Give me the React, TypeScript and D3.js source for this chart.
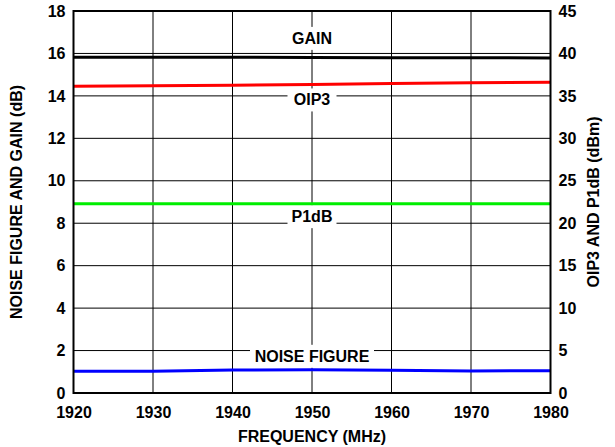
import React, { useEffect, useRef } from "react";
import * as d3 from "d3";

const WIDTH = 615;
const HEIGHT = 447;
const MARGIN = { top: 11, right: 64.5, bottom: 54, left: 73.5 };
const FONT = "'Liberation Sans', Arial, Helvetica, sans-serif";

// frequency points (MHz)
const freq = [1920, 1930, 1940, 1950, 1960, 1970, 1980];
// left axis (dB)
const gain = [15.82, 15.82, 15.82, 15.81, 15.8, 15.8, 15.79];
const noiseFigure = [1.02, 1.03, 1.08, 1.1, 1.07, 1.04, 1.05];
// right axis (dBm)
const oip3 = [36.15, 36.2, 36.25, 36.35, 36.45, 36.55, 36.62];
const p1db = [22.3, 22.3, 22.3, 22.3, 22.3, 22.3, 22.3];

const xTicks = [1920, 1930, 1940, 1950, 1960, 1970, 1980];
const leftTicks = [0, 2, 4, 6, 8, 10, 12, 14, 16, 18];
const rightTicks = [0, 5, 10, 15, 20, 25, 30, 35, 40, 45];

// in-plot labels: text, frequency for centre, left-axis value for baseline
const labels = [
  { text: "GAIN", x: 1950, y: 16.45 },
  { text: "OIP3", x: 1950, y: 13.55 },
  { text: "P1dB", x: 1950, y: 8.05 },
  { text: "NOISE FIGURE", x: 1950, y: 1.47 },
];

export default function App() {
  const axesRef = useRef<SVGGElement>(null);
  const boundsWidth = WIDTH - MARGIN.left - MARGIN.right;
  const boundsHeight = HEIGHT - MARGIN.top - MARGIN.bottom;

  const xScale = d3.scaleLinear().domain([1920, 1980]).range([0, boundsWidth]);
  const yLeft = d3.scaleLinear().domain([0, 18]).range([boundsHeight, 0]);
  const yRight = d3.scaleLinear().domain([0, 45]).range([boundsHeight, 0]);

  useEffect(() => {
    const g = d3.select(axesRef.current);
    g.selectAll("*").remove();

    const xAxis = d3.axisBottom(xScale).tickValues(xTicks).tickSize(0).tickPadding(14).tickFormat(d3.format("d"));
    g.append("g").attr("transform", `translate(0,${boundsHeight})`).call(xAxis);

    const lAxis = d3.axisLeft(yLeft).tickValues(leftTicks).tickSize(0).tickPadding(8);
    g.append("g").call(lAxis);

    const rAxis = d3.axisRight(yRight).tickValues(rightTicks).tickSize(0).tickPadding(8);
    g.append("g").attr("transform", `translate(${boundsWidth},0)`).call(rAxis);

    g.selectAll(".domain").remove();
    g.selectAll("text")
      .attr("font-family", FONT)
      .attr("font-size", 16)
      .attr("font-weight", "bold")
      .attr("fill", "#000");
  }, []);

  const lineLeft = d3
    .line<number>()
    .x((_, i) => xScale(freq[i]))
    .y((d) => yLeft(d));
  const lineRight = d3
    .line<number>()
    .x((_, i) => xScale(freq[i]))
    .y((d) => yRight(d));

  return (
    <svg width={WIDTH} height={HEIGHT} style={{ position: "absolute", left: 0, top: 0, background: "#fff" }}>
      <g transform={`translate(${MARGIN.left},${MARGIN.top})`}>
        {/* grid */}
        {xTicks.map((t) => (
          <line key={"vx" + t} x1={xScale(t)} x2={xScale(t)} y1={0} y2={boundsHeight} stroke="#000" strokeWidth={1} />
        ))}
        {leftTicks.map((t) => (
          <line key={"hy" + t} x1={0} x2={boundsWidth} y1={yLeft(t)} y2={yLeft(t)} stroke="#000" strokeWidth={1} />
        ))}

        {/* label backgrounds and labels */}
        {labels.map((l) => {
          const w = l.text === "NOISE FIGURE" ? 124 : l.text === "GAIN" ? 46 : 49;
          const by = yLeft(l.y);
          return (
            <g key={l.text}>
              <rect x={xScale(l.x) - w / 2} y={by - 17} width={w} height={23} fill="#fff" />
              <text
                x={xScale(l.x)}
                y={by}
                textAnchor="middle"
                fontFamily={FONT}
                fontSize={16}
                fontWeight="bold"
                fill="#000"
              >
                {l.text}
              </text>
            </g>
          );
        })}

        {/* data */}
        <path d={lineLeft(gain) || ""} fill="none" stroke="#000" strokeWidth={3} />
        <path d={lineRight(oip3) || ""} fill="none" stroke="#ff0000" strokeWidth={3} />
        <path d={lineRight(p1db) || ""} fill="none" stroke="#00ee00" strokeWidth={3} />
        <path d={lineLeft(noiseFigure) || ""} fill="none" stroke="#0000ff" strokeWidth={3} />

        {/* frame */}
        <rect x={0} y={0} width={boundsWidth} height={boundsHeight} fill="none" stroke="#000" strokeWidth={2} />

        <g ref={axesRef} />
      </g>

      <text
        x={(MARGIN.left + WIDTH - MARGIN.right) / 2}
        y={441.5}
        textAnchor="middle"
        fontFamily={FONT}
        fontSize={16}
        fontWeight="bold"
      >
        FREQUENCY (MHz)
      </text>
      <text
        transform={`translate(22,${MARGIN.top + boundsHeight / 2}) rotate(-90)`}
        textAnchor="middle"
        fontFamily={FONT}
        fontSize={16}
        fontWeight="bold"
      >
        NOISE FIGURE AND GAIN (dB)
      </text>
      <text
        transform={`translate(599,${MARGIN.top + boundsHeight / 2}) rotate(-90)`}
        textAnchor="middle"
        fontFamily={FONT}
        fontSize={16}
        fontWeight="bold"
      >
        OIP3 AND P1dB (dBm)
      </text>
    </svg>
  );
}
